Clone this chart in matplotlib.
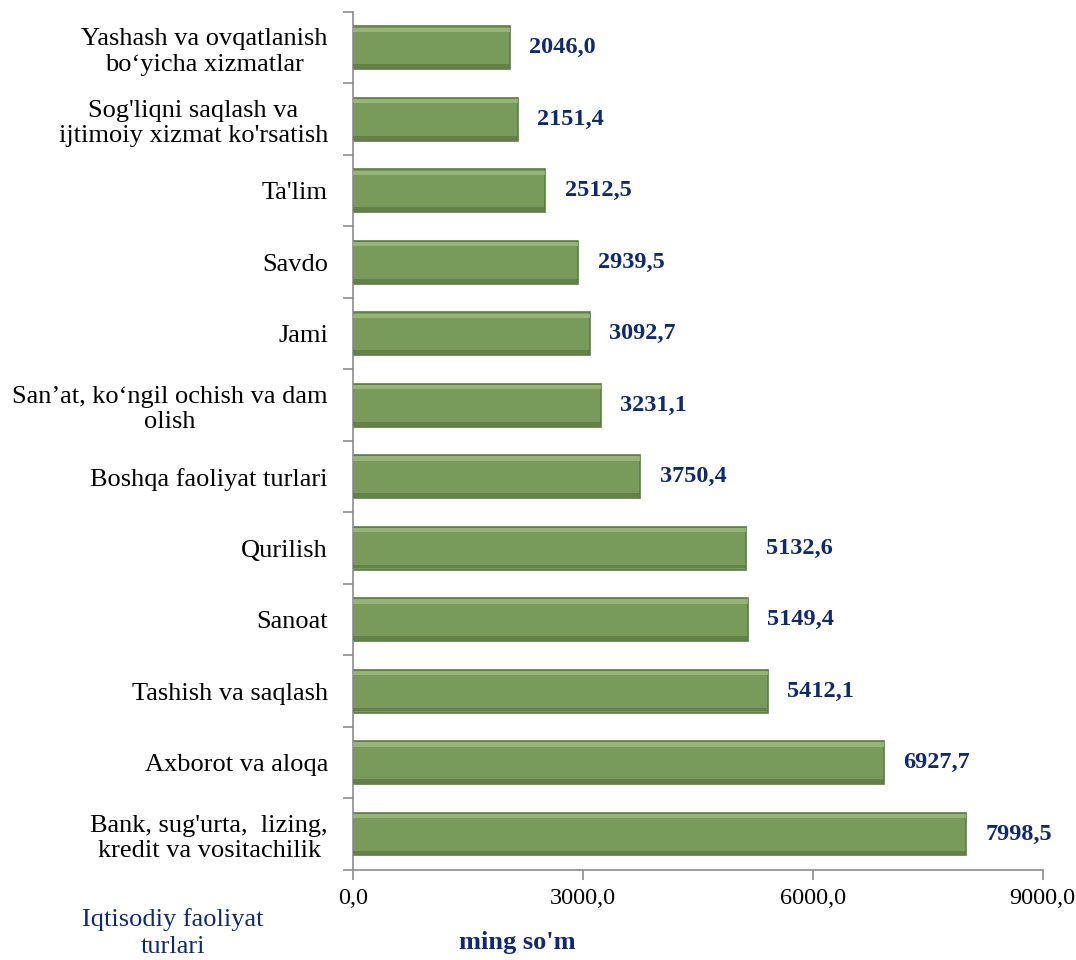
import matplotlib
matplotlib.use("Agg")
import matplotlib.pyplot as plt
from matplotlib.ticker import FixedLocator, FuncFormatter

categories = [
    "Bank, sug'urta,  lizing,\nkredit va vositachilik",
    "Axborot va aloqa",
    "Tashish va saqlash",
    "Sanoat",
    "Qurilish",
    "Boshqa faoliyat turlari",
    "San’at, ko‘ngil ochish va dam\nolish",
    "Jami",
    "Savdo",
    "Ta'lim",
    "Sog'liqni saqlash va\nijtimoiy xizmat ko'rsatish",
    "Yashash va ovqatlanish\nbo‘yicha xizmatlar",
]
values = [7998.5, 6927.7, 5412.1, 5149.4, 5132.6, 3750.4, 3231.1, 3092.7, 2939.5, 2512.5, 2151.4, 2046.0]
xticks = [0, 3000, 6000, 9000]

plt.rcParams['font.family'] = ['Liberation Serif', 'DejaVu Serif']
navy = '#0F2A6B'

fig = plt.figure(figsize=(10.76, 9.6), dpi=100)
ax = fig.add_axes([0.328, 0.094, 0.641, 0.8935])

pos = list(range(len(categories)))
h = 0.6
ax.barh(pos, values, height=h, color='#789A5A', edgecolor='#5E7A45', linewidth=1.2, zorder=2)
# bevel look: lighter top strip, darker bottom strip
ax.barh([p + h * 0.42 for p in pos], values, height=h * 0.10, color='#A3BF86', linewidth=0, zorder=3, alpha=0.7)
ax.barh([p - h * 0.43 for p in pos], values, height=h * 0.09, color='#5C7742', linewidth=0, zorder=3, alpha=0.7)

for p, v in zip(pos, values):
    ax.annotate(f"{v:.1f}".replace('.', ','), xy=(v, p), xytext=(14, 0), textcoords='offset points',
                va='center', ha='left', fontsize=17.5, fontweight='bold', color=navy)

ax.set_xlim(0, 9000)
ax.set_ylim(-0.5, len(categories) - 0.5)
ax.xaxis.set_major_locator(FixedLocator(xticks))
ax.xaxis.set_major_formatter(FuncFormatter(lambda x, _: f"{x:.1f}".replace('.', ',')))
ax.set_yticks(pos)
ax.set_yticklabels(categories, fontsize=19, linespacing=1.2, multialignment='center')
ax.yaxis.set_minor_locator(FixedLocator([p - 0.5 for p in pos] + [len(pos) - 0.5]))
ax.tick_params(axis='y', which='major', length=0, pad=18)
ax.tick_params(axis='y', which='minor', length=7, color='#8C8C8C', width=1.2)
ax.tick_params(axis='x', which='major', length=7, color='#8C8C8C', width=1.2, labelsize=17.5, pad=6)

for s in ['top', 'right']:
    ax.spines[s].set_visible(False)
for s in ['left', 'bottom']:
    ax.spines[s].set_color('#8C8C8C')
    ax.spines[s].set_linewidth(1.2)

fig.text(173 / 1076, 1 - 933 / 960, "Iqtisodiy faoliyat\nturlari", ha='center', va='center',
         fontsize=19, color=navy, linespacing=1.25)
fig.text(517 / 1076, 1 - 943 / 960, "ming so'm", ha='center', va='center',
         fontsize=19, fontweight='bold', color=navy)

fig.savefig('out.png', dpi=100)
